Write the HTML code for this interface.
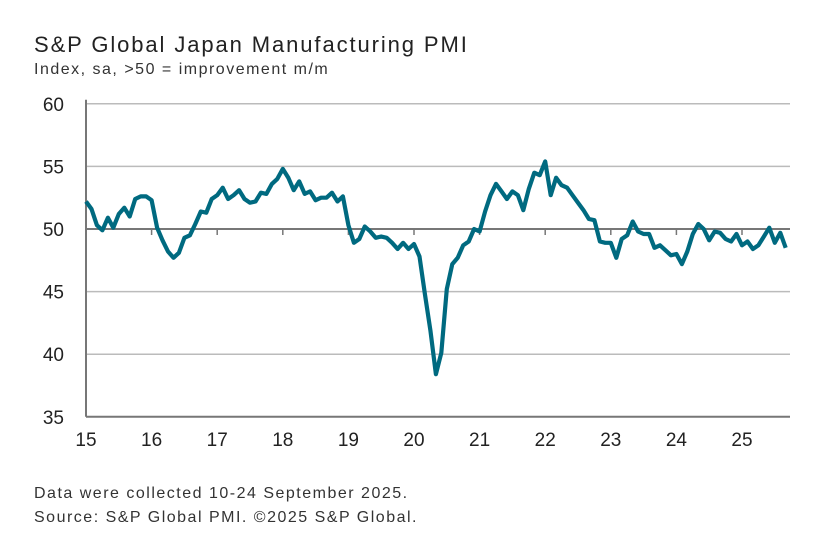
<!DOCTYPE html>
<html><head><meta charset="utf-8"><style>
body{margin:0;background:#fff;width:834px;height:543px;overflow:hidden;font-family:"Liberation Sans",sans-serif;color:#222}
</style></head><body>
<svg width="834" height="543">
<text x="34" y="52" font-size="22" letter-spacing="1.9" fill="#222">S&amp;P Global Japan Manufacturing PMI</text>
<text x="34" y="74" font-size="16" letter-spacing="1.5" fill="#333">Index, sa, &gt;50 = improvement m/m</text>
<g id="grid"></g><g id="axes"></g>
<path id="line" fill="none" stroke="#006a80" stroke-width="4.2" stroke-linejoin="round"/>
<text x="34" y="498" font-size="16" letter-spacing="1.5" fill="#333">Data were collected 10-24 September 2025.</text>
<text x="34" y="522" font-size="16" letter-spacing="1.5" fill="#333">Source: S&amp;P Global PMI. ©2025 S&amp;P Global.</text>
</svg>
<script>
const yTicks=[35,40,45,50,55,60];
const yearLabels=["15","16","17","18","19","20","21","22","23","24","25"];
const pmi=[52.2,51.6,50.3,49.9,50.9,50.1,51.2,51.7,51.0,52.4,52.6,52.6,
52.3,50.1,49.1,48.2,47.7,48.1,49.3,49.5,50.4,51.4,51.3,52.4,
52.7,53.3,52.4,52.7,53.1,52.4,52.1,52.2,52.9,52.8,53.6,54.0,
54.8,54.1,53.1,53.8,52.8,53.0,52.3,52.5,52.5,52.9,52.2,52.6,
50.3,48.9,49.2,50.2,49.8,49.3,49.4,49.3,48.9,48.4,48.9,48.4,
48.8,47.8,44.8,41.9,38.4,40.1,45.2,47.2,47.7,48.7,49.0,50.0,
49.8,51.4,52.7,53.6,53.0,52.4,53.0,52.7,51.5,53.2,54.5,54.3,
55.4,52.7,54.1,53.5,53.3,52.7,52.1,51.5,50.8,50.7,49.0,48.9,
48.9,47.7,49.2,49.5,50.6,49.8,49.6,49.6,48.5,48.7,48.3,47.9,
48.0,47.2,48.2,49.6,50.4,50.0,49.1,49.8,49.7,49.2,49.0,49.6,
48.7,49.0,48.4,48.7,49.4,50.1,48.9,49.7,48.5];
const NS="http://www.w3.org/2000/svg";
const x0=86,yearW=65.6,xR=790;
const X=i=>x0+i*yearW/12;
const Y=v=>229-(v-50)*12.52;
const grid=document.getElementById('grid'),axes=document.getElementById('axes');
function mk(tag,attrs,parent){const e=document.createElementNS(NS,tag);for(const k in attrs)e.setAttribute(k,attrs[k]);parent.appendChild(e);return e;}
yTicks.forEach(t=>{
 if(t!==35){const l=mk('line',{x1:x0,x2:xR,y1:Y(t),y2:Y(t),stroke:t===50?'#777':'#bbb','stroke-width':t===50?2:1.5},grid);
 
 }
 const tx=mk('text',{x:64,y:Y(t)+7,'font-size':19,'text-anchor':'end',fill:'#222'},axes);
 tx.textContent=t;
 
 
});
const ax=mk('line',{x1:x0,x2:x0,y1:Y(60)-4,y2:Y(35),stroke:'#777','stroke-width':2},axes);


const bx=mk('line',{x1:x0,x2:xR,y1:Y(35),y2:Y(35),stroke:'#777','stroke-width':2},axes);


yearLabels.forEach((lab,i)=>{
 const x=X(i*12);
 mk('line',{x1:x,x2:x,y1:Y(50),y2:Y(50)+6,stroke:'#777','stroke-width':1.5},axes);
 const t=mk('text',{x:x,y:446,'font-size':19,'text-anchor':'middle',fill:'#222'},axes);
 t.textContent=lab;
 
 
});
document.getElementById('line').setAttribute('d',pmi.map((v,i)=>(i?'L':'M')+X(i).toFixed(1)+','+Y(v).toFixed(1)).join(''));
</script>
</body></html>
